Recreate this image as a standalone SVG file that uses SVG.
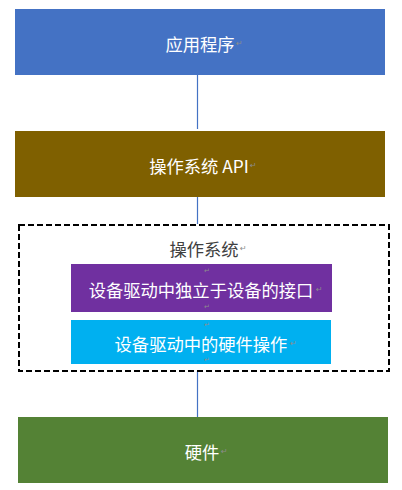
<svg xmlns="http://www.w3.org/2000/svg" width="402" height="490" viewBox="0 0 402 490">
<style>
.t{font-family:"Noto Sans CJK SC","Noto Sans",sans-serif;font-size:17.3px;fill:#ffffff;text-anchor:middle;dominant-baseline:central}
.lbl{fill:#404040}
.pm{font-family:"DejaVu Sans",sans-serif;font-size:8px;fill:#8c8c8c;dominant-baseline:central}
.pm2{font-family:"DejaVu Sans",sans-serif;font-size:7px;fill:#8c8c8c;dominant-baseline:central}
.conn{stroke:#4472C4;stroke-width:1.2;fill:none}
</style>
<rect width="402" height="490" fill="#ffffff"/>
<g id="connectors">
<line class="conn" x1="197.5" y1="75" x2="197.5" y2="129"/>
<line class="conn" x1="197.5" y1="197" x2="197.5" y2="224"/>
<line class="conn" x1="197.5" y1="371" x2="197.5" y2="417"/>
</g>
<g id="app">
<rect x="15" y="9" width="370" height="66" fill="#4472C4"/>
<text class="t" x="200" y="43">应用程序</text>
<text class="pm" x="236" y="43">↵</text>
</g>
<g id="api">
<rect x="15" y="131" width="370" height="66" fill="#7F6000"/>
<text class="t" x="199" y="165">操作系统 API</text>
<text class="pm" x="250" y="165">↵</text>
</g>
<g id="os">
<rect x="19" y="225" width="370" height="146" fill="#ffffff" stroke="#000000" stroke-width="2" stroke-dasharray="6,3"/>
<text class="t lbl" x="204" y="248">操作系统</text>
<text class="pm" x="240" y="248">↵</text>
</g>
<g id="indep">
<rect x="71" y="264" width="261" height="48" fill="#7030A0"/>
<text class="t" x="201" y="289">设备驱动中独立于设备的接口</text>
<text class="pm2" x="204" y="271">↵</text>
<text class="pm2" x="204" y="306.5">↵</text>
<text class="pm" x="316" y="289">↵</text>
</g>
<g id="hwops">
<rect x="71" y="320" width="260" height="44" fill="#00B0F0"/>
<text class="t" x="201" y="343">设备驱动中的硬件操作</text>
<text class="pm2" x="204" y="325">↵</text>
<text class="pm2" x="204" y="359.5">↵</text>
<text class="pm" x="290" y="343">↵</text>
</g>
<g id="hardware">
<rect x="18" y="417" width="370" height="66" fill="#548235"/>
<text class="t" x="202" y="451">硬件</text>
<text class="pm" x="221" y="451">↵</text>
</g>
</svg>
